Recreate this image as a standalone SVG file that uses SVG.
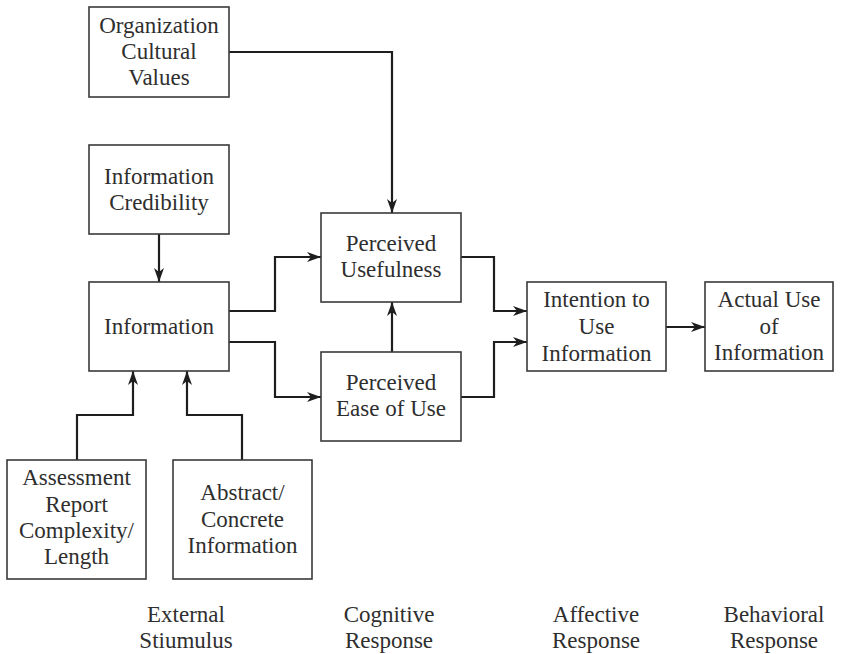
<svg xmlns="http://www.w3.org/2000/svg" width="843" height="654" viewBox="0 0 843 654">
<style>
.box{fill:#fff;stroke:#3a3a3a;stroke-width:1.6}
.t{font-size:23px;fill:#2e2e2e;text-anchor:middle}
.c{fill:none;stroke:#1e1e1e;stroke-width:2.2}
</style>
<defs>
<marker id="ah" viewBox="0 0 14 10" refX="14" refY="5" markerWidth="14" markerHeight="10" markerUnits="userSpaceOnUse" orient="auto">
<path d="M0,0 L14,5 L0,10 L4,5 Z" fill="#1e1e1e"/>
</marker>
</defs>
<rect width="843" height="654" fill="#fff"/>
<g id="connectors">
<path class="c" d="M229,52 H392 V213" marker-end="url(#ah)"/>
<path class="c" d="M159,234 V282" marker-end="url(#ah)"/>
<path class="c" d="M229,311 H275 V257 H321" marker-end="url(#ah)"/>
<path class="c" d="M229,342 H275 V397 H321" marker-end="url(#ah)"/>
<path class="c" d="M392,352 V302" marker-end="url(#ah)"/>
<path class="c" d="M77,460 V415 H133 V371" marker-end="url(#ah)"/>
<path class="c" d="M242,460 V415 H187 V371" marker-end="url(#ah)"/>
<path class="c" d="M461,257 H494 V311 H527" marker-end="url(#ah)"/>
<path class="c" d="M461,397 H494 V342 H527" marker-end="url(#ah)"/>
<path class="c" d="M666,327 H705" marker-end="url(#ah)"/>
</g>
<g font-family="'Liberation Serif', 'DejaVu Serif', serif">
<g id="org">
<rect class="box" x="89" y="7" width="140" height="90"/>
<text class="t" x="159" y="33">Organization</text>
<text class="t" x="159" y="59">Cultural</text>
<text class="t" x="159" y="85">Values</text>
</g>
<g id="credibility">
<rect class="box" x="89" y="145" width="140" height="89"/>
<text class="t" x="159" y="184">Information</text>
<text class="t" x="159" y="210">Credibility</text>
</g>
<g id="information">
<rect class="box" x="89" y="282" width="140" height="89"/>
<text class="t" x="159" y="334">Information</text>
</g>
<g id="usefulness">
<rect class="box" x="321" y="213" width="140" height="89"/>
<text class="t" x="391" y="251">Perceived</text>
<text class="t" x="391" y="277">Usefulness</text>
</g>
<g id="ease">
<rect class="box" x="321" y="352" width="140" height="89"/>
<text class="t" x="391" y="390">Perceived</text>
<text class="t" x="391" y="416">Ease of Use</text>
</g>
<g id="intention">
<rect class="box" x="527" y="282" width="139" height="89"/>
<text class="t" x="596.5" y="307">Intention to</text>
<text class="t" x="596.5" y="334">Use</text>
<text class="t" x="596.5" y="361">Information</text>
</g>
<g id="actual">
<rect class="box" x="705" y="282" width="128" height="89"/>
<text class="t" x="769" y="307">Actual Use</text>
<text class="t" x="769" y="334">of</text>
<text class="t" x="769" y="360">Information</text>
</g>
<g id="assessment">
<rect class="box" x="7" y="460" width="139" height="119"/>
<text class="t" x="76.5" y="485">Assessment</text>
<text class="t" x="76.5" y="512">Report</text>
<text class="t" x="76.5" y="538">Complexity/</text>
<text class="t" x="76.5" y="564">Length</text>
</g>
<g id="abstract">
<rect class="box" x="173" y="460" width="139" height="119"/>
<text class="t" x="242.5" y="500">Abstract/</text>
<text class="t" x="242.5" y="527">Concrete</text>
<text class="t" x="242.5" y="553">Information</text>
</g>
<g id="labels">
<text class="t" x="186" y="622">External</text>
<text class="t" x="186" y="648">Stiumulus</text>
<text class="t" x="389" y="622">Cognitive</text>
<text class="t" x="389" y="648">Response</text>
<text class="t" x="596" y="622">Affective</text>
<text class="t" x="596" y="648">Response</text>
<text class="t" x="774" y="622">Behavioral</text>
<text class="t" x="774" y="648">Response</text>
</g>
</g>
</svg>
